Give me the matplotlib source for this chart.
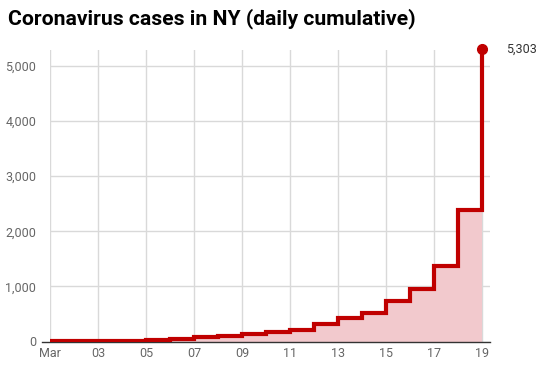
import matplotlib.pyplot as plt

plt.rcParams['font.family'] = ['Roboto', 'DejaVu Sans']

days = list(range(1, 20))
cases = [1, 1, 2, 11, 22, 44, 89, 106, 142, 173, 217, 326, 421, 524, 729, 950, 1374, 2382, 5303]
tick_days = [1, 3, 5, 7, 9, 11, 13, 15, 17, 19]
tick_labels = ['Mar', '03', '05', '07', '09', '11', '13', '15', '17', '19']

red = '#c00000'

fig = plt.figure(figsize=(5.4, 3.65), dpi=100)
ax = fig.add_axes([50 / 540, 23.5 / 365, 440 / 540, 291.5 / 365])

ax.fill_between(days, cases, step='post', color='#f2c9cd', linewidth=0, zorder=1)
ax.step(days, cases, where='post', color=red, linewidth=3, solid_joinstyle='miter', zorder=3)
ax.plot(days[-1], cases[-1], 'o', color=red, markersize=7, clip_on=False, zorder=4)
ax.annotate('5,303', (days[-1], cases[-1]), xytext=(17, 0), textcoords='offset points',
            va='center', ha='left', fontsize=9, color='#333333', annotation_clip=False)

ax.set_xlim(1, 19 + 8 / 24)
ax.set_ylim(0, 5290)
ax.set_xticks(tick_days)
ax.set_xticklabels(tick_labels)
ax.set_yticks([0, 1000, 2000, 3000, 4000, 5000])
ax.set_yticklabels(['0', '1,000', '2,000', '3,000', '4,000', '5,000'])
ax.tick_params(length=0, labelsize=9, labelcolor='#666666')
ax.tick_params(axis='y', pad=10)
ax.tick_params(axis='x', pad=4)
ax.grid(color='#d9d9d9', linewidth=1)
ax.set_axisbelow(True)
for s in ax.spines.values():
    s.set_visible(False)
ax.plot([1 - 8 / 24, 19 + 8 / 24], [0, 0], color='#333333', linewidth=1, clip_on=False, zorder=2)

fig.text(8 / 540, 1 - 19 / 365, 'Coronavirus cases in NY (daily cumulative)', fontsize=15.2,
         fontweight='bold', va='center', ha='left', color='#000000')

fig.savefig('out.png', dpi=100)
